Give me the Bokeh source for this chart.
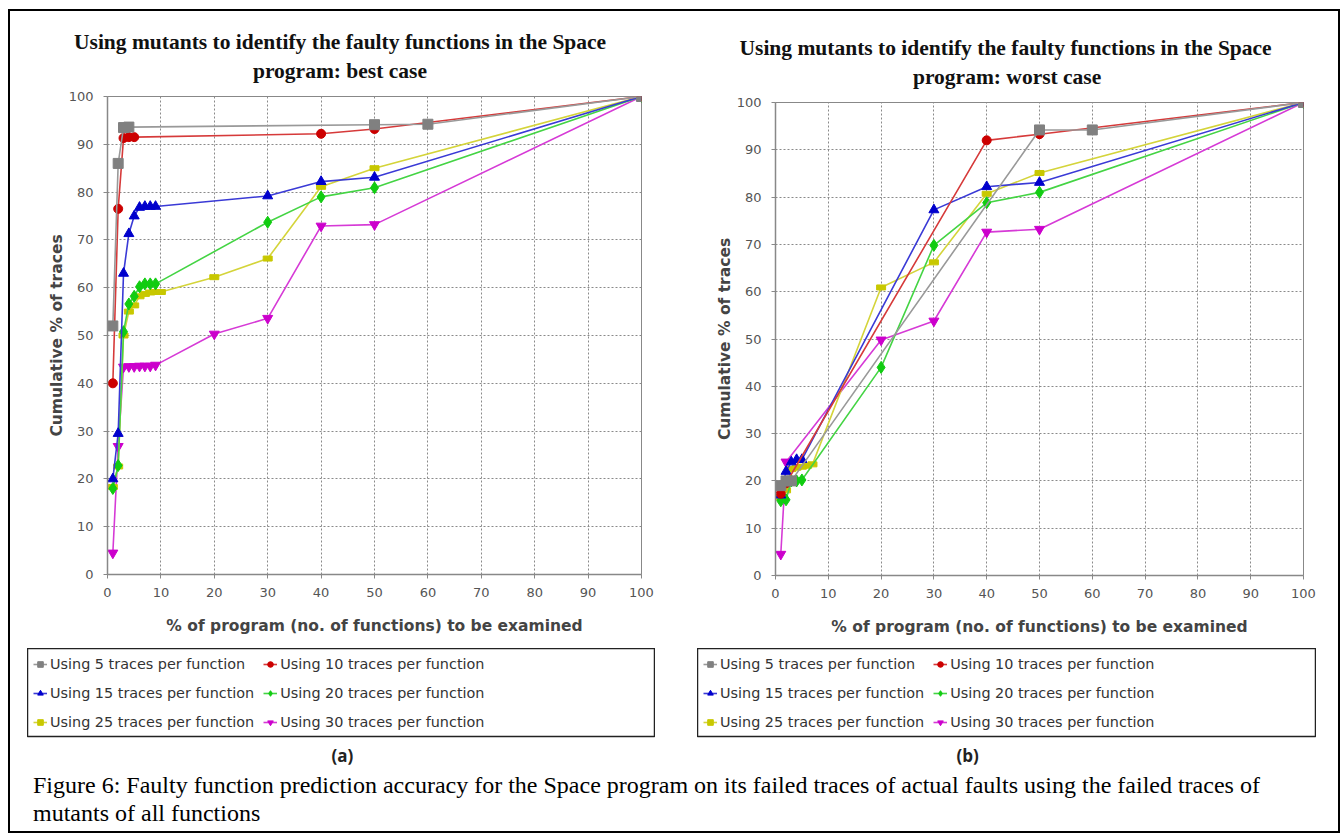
from bokeh.plotting import figure
from bokeh.models import Range1d, Title, Legend, LegendItem, Div, FixedTicker
from bokeh.layouts import column, row
from bokeh.embed import file_html
from bokeh.resources import INLINE

# ---------------- data ----------------
labels = ["Using 5 traces per function", "Using 10 traces per function",
          "Using 15 traces per function", "Using 20 traces per function",
          "Using 25 traces per function", "Using 30 traces per function"]
x_ticks = [0, 10, 20, 30, 40, 50, 60, 70, 80, 90, 100]
y_ticks = [0, 10, 20, 30, 40, 50, 60, 70, 80, 90, 100]

# (a) best case
a5_x = [1, 2, 3, 4, 50, 60, 100]
a5_y = [52, 86, 93.5, 93.6, 94.1, 94.2, 100]
a10_x = [1, 2, 3, 4, 5, 40, 50, 100]
a10_y = [40, 76.5, 91.3, 91.5, 91.5, 92.2, 93.2, 100]
a15_x = [1, 2, 3, 4, 5, 6, 7, 8, 9, 30, 40, 50, 100]
a15_y = [20, 29.5, 63, 71.3, 75, 76.8, 77, 77, 77, 79.2, 82.2, 83.1, 100]
a20_x = [1, 2, 3, 4, 5, 6, 7, 8, 9, 30, 40, 50, 100]
a20_y = [18, 22.8, 50.8, 56.6, 58.2, 60.2, 60.8, 60.8, 60.8, 73.7, 79, 80.9, 100]
a25_x = [1, 2, 3, 4, 5, 6, 7, 8, 9, 10, 20, 30, 40, 50, 100]
a25_y = [18.3, 22.6, 50, 55, 56.3, 58.2, 58.7, 59, 59.1, 59.1, 62.2, 66.1, 81.1, 85, 100]
a30_x = [1, 2, 3, 4, 5, 6, 7, 8, 9, 20, 30, 40, 50, 100]
a30_y = [4.5, 26.8, 43.4, 43.5, 43.5, 43.6, 43.6, 43.6, 43.8, 50.3, 53.6, 72.9, 73.2, 100]

# (b) worst case
b5_x = [1, 2, 3, 50, 60, 100]
b5_y = [19, 20, 20, 94.2, 94.2, 100]
b10_x = [1, 2, 40, 50, 100]
b10_y = [17.3, 19.5, 92, 93.3, 100]
b15_x = [1, 2, 3, 4, 5, 30, 40, 50, 100]
b15_y = [17, 22, 24, 24.5, 24.5, 77.3, 82.2, 83.1, 100]
b20_x = [1, 2, 3, 4, 5, 20, 30, 40, 50, 100]
b20_y = [15.8, 16, 20, 20, 20.2, 44, 69.8, 78.8, 81, 100]
b25_x = [1, 2, 3, 4, 5, 6, 7, 20, 30, 40, 50, 100]
b25_y = [16.5, 18, 22.5, 22.8, 23, 23.2, 23.5, 60.9, 66.2, 80.7, 85.1, 100]
b30_x = [1, 2, 20, 30, 40, 50, 100]
b30_y = [4.5, 24, 49.8, 53.8, 72.6, 73.2, 100]

series_a = [(a5_x, a5_y), (a10_x, a10_y), (a15_x, a15_y), (a20_x, a20_y), (a25_x, a25_y), (a30_x, a30_y)]
series_b = [(b5_x, b5_y), (b10_x, b10_y), (b15_x, b15_y), (b20_x, b20_y), (b25_x, b25_y), (b30_x, b30_y)]

# ---------------- style ----------------
COLORS = ["#808080", "#cc0000", "#0000cc", "#11cc11", "#c8c800", "#cc00cc"]
LINE_COLORS = ["#999999", "#d63a3a", "#3a3ad6", "#44d444", "#d4d43a", "#d63ad6"]
MARKERS = ["square", "circle", "triangle", "diamond", "rect", "inverted_triangle"]
MSIZE = [10, 9, 10, 12, 0, 10]

TICK_FONT = "DejaVu Sans"
TITLE_FONT = "Liberation Serif"


def add_series(p, series, i, visible=True):
    xs, ys = series[i]
    rl = p.line(xs, ys, line_color=LINE_COLORS[i], line_width=1.6, visible=visible)
    if MARKERS[i] == "rect":
        if visible:
            rm = p.rect(xs, ys, width=9, height=5, width_units="screen", height_units="screen",
                        fill_color=COLORS[i], line_color=COLORS[i])
        else:
            rm = p.scatter(xs, ys, marker="square", size=7, fill_color=COLORS[i],
                           line_color=COLORS[i], visible=False)
    else:
        rm = p.scatter(xs, ys, marker=MARKERS[i], size=MSIZE[i] if visible else MSIZE[i] - 1,
                       fill_color=COLORS[i], line_color=COLORS[i], visible=visible)
    return rl, rm


def make_chart(series, line1, line2, width, height, bl, bt, br, bb, off1, off2):
    p = figure(width=width, height=height, x_range=Range1d(0, 100), y_range=Range1d(0, 100),
               output_backend="svg", toolbar_location=None, title=None,
               min_border_left=bl, min_border_top=bt, min_border_right=br, min_border_bottom=bb)
    p.add_layout(Title(text=line2, align="left", offset=off2, text_font=TITLE_FONT,
                       text_font_size="21.5px", text_font_style="bold", text_color="#111111",
                       standoff=28), "above")
    p.add_layout(Title(text=line1, align="left", offset=off1, text_font=TITLE_FONT,
                       text_font_size="21.5px", text_font_style="bold", text_color="#111111",
                       standoff=-22), "above")
    p.background_fill_color = "white"
    p.border_fill_color = "white"
    p.outline_line_color = "#888888"
    p.outline_line_width = 1

    p.xaxis.ticker = FixedTicker(ticks=x_ticks)
    p.yaxis.ticker = FixedTicker(ticks=y_ticks)
    p.xgrid.ticker = FixedTicker(ticks=x_ticks)
    p.ygrid.ticker = FixedTicker(ticks=y_ticks)
    for g in (p.xgrid, p.ygrid):
        g.grid_line_color = "#8a8a8a"
        g.grid_line_dash = "2 2"
        g.grid_line_width = 1

    for ax in (p.xaxis, p.yaxis):
        ax.axis_line_color = "#888888"
        ax.axis_line_width = 1.5
        ax.major_tick_line_color = "#888888"
        ax.major_tick_in = 0
        ax.major_tick_out = 4
        ax.minor_tick_line_color = None
        ax.major_label_text_font = TICK_FONT
        ax.major_label_text_font_size = "13px"
        ax.major_label_text_color = "#555555"
        ax.axis_label_text_font = TICK_FONT
        ax.axis_label_text_font_size = "15.5px"
        ax.axis_label_text_font_style = "bold"
        ax.axis_label_text_color = "#444444"
    p.xaxis.axis_label = "% of program (no. of functions) to be examined"
    p.yaxis.axis_label = "Cumulative % of traces"
    p.xaxis.major_label_standoff = 9
    p.yaxis.major_label_standoff = 10
    p.xaxis.axis_label_standoff = 17
    p.yaxis.axis_label_standoff = 0

    for i in reversed(range(6)):
        add_series(p, series, i)
    return p


def make_legend(series, width, tag, tag_offset):
    lf = figure(width=width, height=89 + 34, x_range=Range1d(-1000, -999),
                y_range=Range1d(-1000, -999),
                output_backend="svg", toolbar_location=None, x_axis_location=None,
                y_axis_location=None, min_border_left=0, min_border_right=0,
                min_border_top=0, min_border_bottom=34)
    lf.grid.visible = False
    lf.outline_line_color = "#222222"
    lf.outline_line_width = 1.5
    items = []
    for i in range(6):
        rl, rm = add_series(lf, series, i, visible=False)
        items.append(LegendItem(label=labels[i], renderers=[rl, rm]))
    leg = Legend(items=items, location="top_left", orientation="horizontal", ncols=2,
                 border_line_alpha=0, background_fill_alpha=0, label_text_font=TICK_FONT,
                 label_text_font_size="14.4px", label_text_color="#333333",
                 glyph_width=14, glyph_height=20, label_height=20, label_standoff=3,
                 spacing=9, padding=6, margin=0)
    lf.add_layout(leg, "center")
    lf.add_layout(Title(text=tag, align="left", offset=tag_offset, text_font="Open Sans",
                        text_font_size="17px", text_font_style="bold", text_color="#222222",
                        standoff=10), "below")
    return lf


pa = make_chart(series_a, "Using mutants to identify the faulty functions in the Space",
                "program: best case", 655, 629, 97, 85, 24, 66, -33.5, 145.5)
pb = make_chart(series_b, "Using mutants to identify the faulty functions in the Space",
                "program: worst case", 673, 629, 110, 91, 35, 65, -36, 137.5)
la = make_legend(series_a, 628, "(a)", 304)
lb = make_legend(series_b, 619, "(b)", 259)
la_box = row(la, margin=(8, 0, 0, 17))
lb_box = row(lb, margin=(8, 0, 0, 32))

caption = Div(text="Figure 6: Faulty function prediction accuracy for the Space program on its "
                   "failed traces of actual faults using the failed traces of<br>mutants of all functions",
              width=1300, margin=(0, 0, 4, 23),
              styles={"font-family": "Liberation Serif", "font-size": "24px",
                      "line-height": "28px", "color": "#000000", "white-space": "nowrap"})

root = column(row(column(pa, la_box), column(pb, lb_box)), caption,
              styles={"border": "2px solid #000000", "background-color": "white"},
              margin=(9, 0, 0, 8))

open("out.html", "w").write(file_html(root, INLINE))
